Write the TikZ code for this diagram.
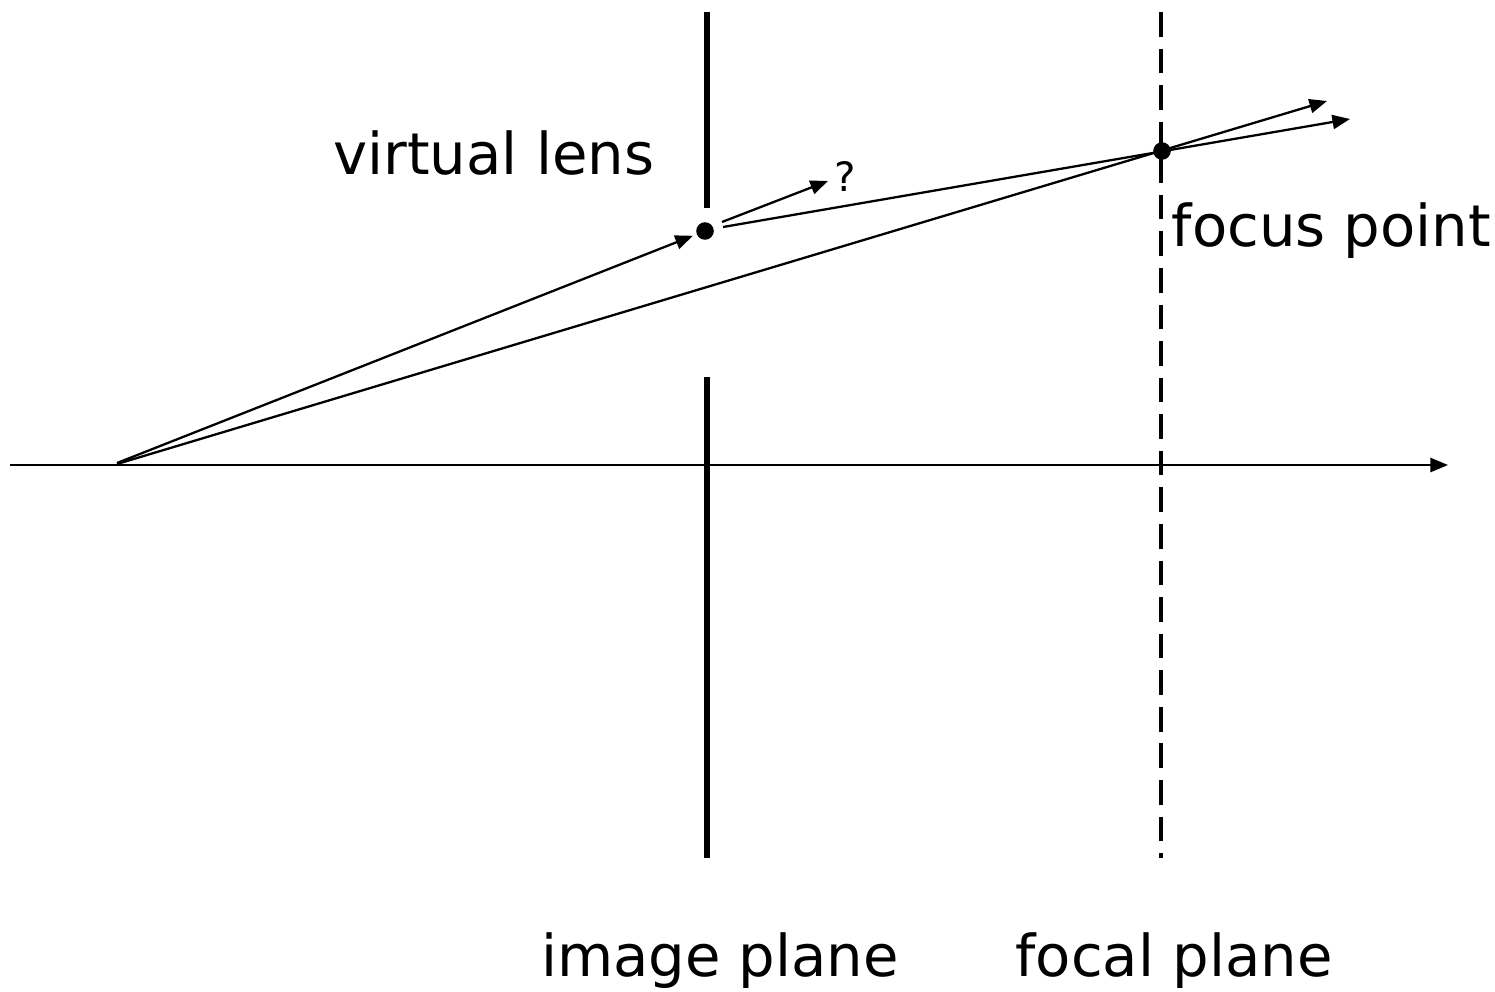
\documentclass[tikz,border=0pt]{standalone}
\usepackage{fontspec}
\setmainfont{DejaVu Sans}
\usetikzlibrary{arrows.meta}
\begin{document}
\begin{tikzpicture}[x=0.01cm,y=-0.01cm,
  ray/.style={line width=0.65pt,-{Triangle[length=5pt,width=4pt]}},
  dot/.style={circle,fill=black,inner sep=0pt,minimum size=5pt},
  plane/.style={line width=1.7pt},
  fplane/.style={line width=1.1pt,dash pattern=on 7pt off 3.4pt},
  lbl/.style={font=\fontsize{16.4}{19}\selectfont},
  qm/.style={font=\fontsize{11.5}{13}\selectfont}]
\useasboundingbox (0,0) rectangle (1495,991);
% coordinates
\coordinate (axL) at (10,465);
\coordinate (axR) at (1448,465);
\coordinate (src) at (117,464);
\coordinate (src1) at (117,463);
\coordinate (ipT1) at (707,12);
\coordinate (ipB1) at (707,208);
\coordinate (ipT2) at (707,377);
\coordinate (ipB2) at (707,858);
\coordinate (fpT) at (1161,12);
\coordinate (fpB) at (1161,858);
\coordinate (r2end) at (1327,101);
\coordinate (r3start) at (723,227);
\coordinate (r3end) at (1350,119);
\coordinate (qS) at (722,222);
\coordinate (qE) at (828,181);
% planes
\draw[plane] (ipT1) -- (ipB1);
\draw[plane] (ipT2) -- (ipB2);
\draw[fplane] (fpT) -- (fpB);
% axis
\draw[ray] (axL) -- (axR);
% dots
\node[dot] (lens) at (705,231) {};
\node[dot] (focus) at (1162,151) {};
% rays
\draw[ray,shorten >=1pt] (src1) -- (lens);
\draw[ray] (src) -- (r2end);
\draw[ray] (r3start) -- (r3end);
\draw[ray] (qS) -- (qE);
% labels
\node[qm,anchor=base west,inner sep=0pt] (q) at (834,192) {?};
\node[lbl,anchor=base east,inner sep=0pt] (vl) at (655,175) {virtual lens};
\node[lbl,anchor=base west,inner sep=0pt] (fp) at (1171,246) {focus point};
\node[lbl,anchor=base,inner sep=0pt] (ip) at (720,976) {image plane};
\node[lbl,anchor=base,inner sep=0pt] (fcp) at (1174,976) {focal plane};
\end{tikzpicture}
\end{document}
